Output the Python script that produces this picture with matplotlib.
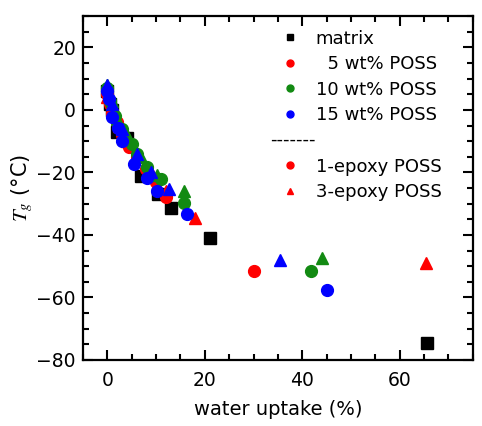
import matplotlib
matplotlib.use("Agg")
import matplotlib.pyplot as plt
from matplotlib.lines import Line2D
from matplotlib.ticker import MultipleLocator

plt.rcParams['font.family'] = ['DejaVu Sans']
plt.rcParams['mathtext.fontset'] = 'stix'

# matrix
matrix_x = [0, 0.5, 1, 2, 4, 7, 10.5, 13, 21, 65.5]
matrix_y = [6, 2, 0, -7, -9, -21, -27, -31.5, -41, -74.6]
# 5 wt% POSS
red_c_x = [0, 0.5, 1, 2, 3, 4.5, 6, 8, 10, 12, 30]
red_c_y = [5, 2, -1, -4, -8, -12, -15, -19, -23, -28, -51.4]
red_t_x = [0, 1, 2.5, 4, 6, 9, 12, 18, 65.3]
red_t_y = [4, 0, -5, -10, -14, -20, -26, -34.5, -49]
# 10 wt% POSS
grn_c_x = [0, 0.5, 1.5, 3, 5, 6, 8.2, 11, 15.7, 41.8]
grn_c_y = [7, 3, -2, -6, -11, -14, -18.4, -22, -29.7, -51.4]
grn_t_x = [0, 1, 2, 4, 7, 10.3, 15.7, 44]
grn_t_y = [8, 3, -3, -8, -15, -20.7, -26, -47.3]
# 15 wt% POSS
blu_c_x = [0, 0.4, 1, 2.1, 3.1, 5.5, 8.2, 10.3, 16.4, 45]
blu_c_y = [6, 3.6, -2.2, -5.9, -9.9, -17.4, -21.8, -25.8, -33.4, -57.5]
blu_t_x = [0, 1, 3, 6, 9, 12.7, 35.5]
blu_t_y = [8, 2, -6, -14, -20, -25.2, -48]

fig = plt.figure(figsize=(4.82, 4.26), dpi=100)
ax = fig.add_axes([0.172, 0.155, 0.809, 0.807])

ms = 8.5
ax.plot(matrix_x, matrix_y, 's', color='black', ms=ms, ls='none')
ax.plot(red_c_x, red_c_y, 'o', color='#ff0000', ms=ms, ls='none')
ax.plot(red_t_x, red_t_y, '^', color='#ff0000', ms=ms, ls='none')
ax.plot(grn_c_x, grn_c_y, 'o', color='#128a12', ms=ms, ls='none')
ax.plot(grn_t_x, grn_t_y, '^', color='#128a12', ms=ms, ls='none')
ax.plot(blu_c_x, blu_c_y, 'o', color='#0000ff', ms=ms, ls='none')
ax.plot(blu_t_x, blu_t_y, '^', color='#0000ff', ms=ms, ls='none')

ax.set_xlim(-5, 75)
ax.set_ylim(-80, 30)
ax.xaxis.set_major_locator(MultipleLocator(20))
ax.xaxis.set_minor_locator(MultipleLocator(5))
ax.yaxis.set_major_locator(MultipleLocator(20))
ax.yaxis.set_minor_locator(MultipleLocator(5))
ax.tick_params(which='both', direction='in', top=True, right=True, width=1.5, labelsize=13.5)
ax.tick_params(which='major', length=7)
ax.tick_params(which='minor', length=4)
ax.tick_params(axis='x', pad=8)
ax.tick_params(axis='y', pad=5)
for s in ax.spines.values():
    s.set_linewidth(1.6)

ax.set_xlabel('water uptake (%)', fontsize=14, labelpad=7)
ax.set_ylabel(r'$T_g$ (°C)', fontsize=15, labelpad=1)

handles = [
    Line2D([], [], marker='s', color='black', ls='none', ms=5),
    Line2D([], [], marker='o', color='#ff0000', ls='none', ms=5),
    Line2D([], [], marker='o', color='#128a12', ls='none', ms=5),
    Line2D([], [], marker='o', color='#0000ff', ls='none', ms=5),
    Line2D([], [], marker='', color='none', ls='none'),
    Line2D([], [], marker='o', color='#ff0000', ls='none', ms=5),
    Line2D([], [], marker='^', color='#ff0000', ls='none', ms=5),
]
labels = ['matrix', '  5 wt% POSS', '10 wt% POSS', '15 wt% POSS', ' ',
          '1-epoxy POSS', '3-epoxy POSS']
leg = ax.legend(handles, labels, loc='upper left', frameon=False, fontsize=13,
                handlelength=1.0, handletextpad=0.9, labelspacing=0.42,
                bbox_to_anchor=(0.49, 0.982), borderaxespad=0.0)
ax.text(0.48, 0.64, '-------', transform=ax.transAxes, fontsize=13, va='center')

fig.savefig('out.png', dpi=100)
